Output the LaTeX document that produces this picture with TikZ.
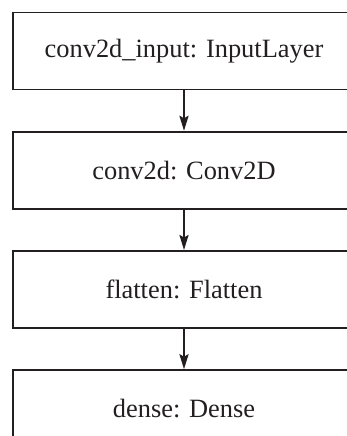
\documentclass[tikz,border=0pt]{standalone}
\usepackage{fontspec}
\setmainfont{Liberation Serif}
\usepackage{tikz}
\usetikzlibrary{arrows.meta, positioning}
\definecolor{inkcol}{HTML}{231F20}

\begin{document}
\begin{tikzpicture}[
  layer/.style={draw=inkcol, minimum width=342pt, minimum height=77pt,
    font=\fontsize{26.4}{30}\selectfont, text=inkcol, line width=1.7pt},
  conn/.style={-{Stealth[length=15pt, width=9pt, inset=2.5pt]}, line width=2.4pt, draw=inkcol},
  node distance=40.5pt,
]
\useasboundingbox (0,0) rectangle (346pt,-436pt);

% Layer stack, top to bottom
\node[layer] (inputl) at (184pt,-51pt) {conv2d\_input: InputLayer};
\node[layer, below=of inputl] (convl) {conv2d: Conv2D};
\node[layer, below=of convl] (flatl) {flatten: Flatten};
\node[layer, below=of flatl] (densel) {dense: Dense};

% connections
\draw[conn] (inputl) -- (convl);
\draw[conn] (convl) -- (flatl);
\draw[conn] (flatl) -- (densel);

\end{tikzpicture}
\end{document}
